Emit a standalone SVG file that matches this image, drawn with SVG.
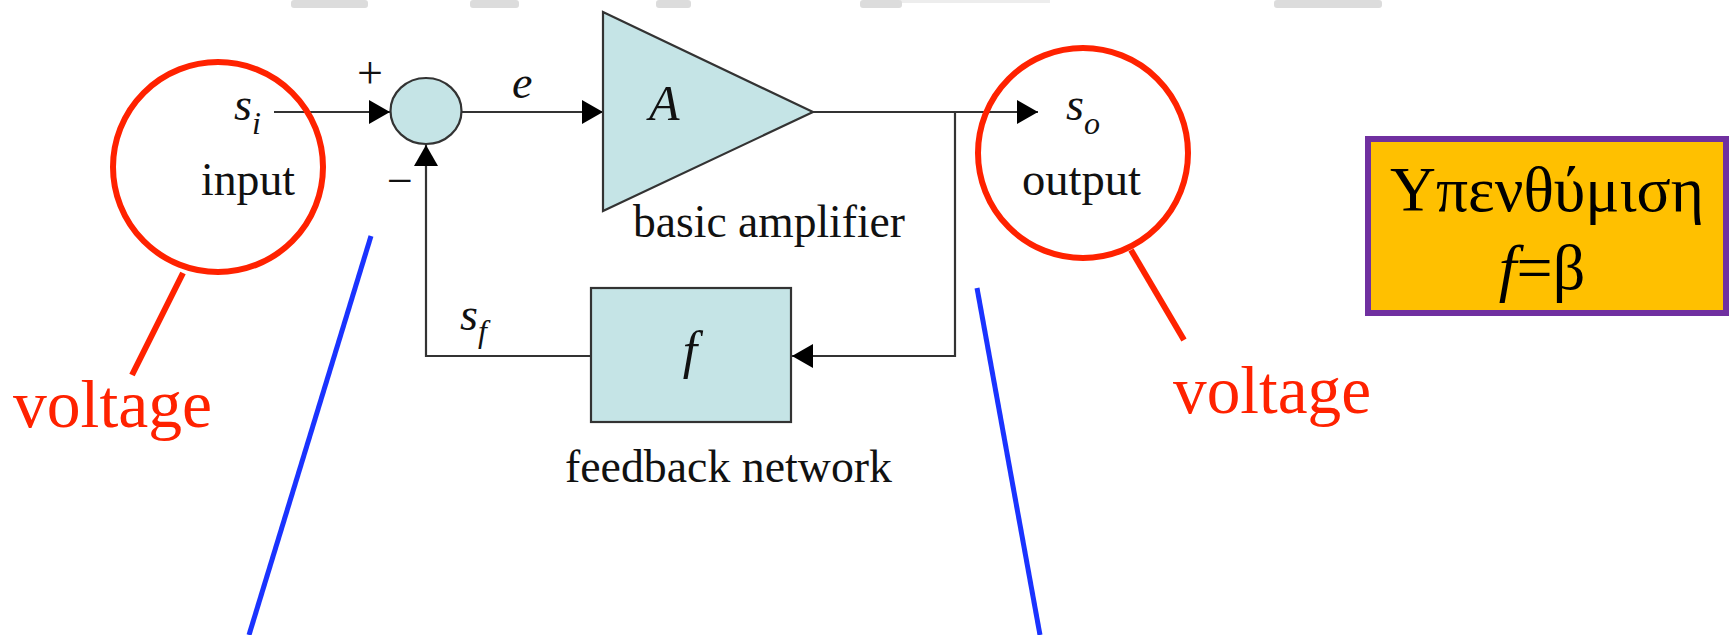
<svg xmlns="http://www.w3.org/2000/svg" width="1730" height="635" viewBox="0 0 1730 635">
<defs>
<style>
.wire{fill:none;stroke:#333;stroke-width:2.2}
.blk{fill:#c5e4e6;stroke:#333;stroke-width:2.2}
.ann{fill:none;stroke:#ff2200;stroke-width:6}
.blue{fill:none;stroke:#1a33ff;stroke-width:5}
.smudge{fill:#dcdcdc}
</style>
<marker id="arr" markerUnits="userSpaceOnUse" markerWidth="22" markerHeight="24" refX="21" refY="12" orient="auto">
<path d="M0,0 L21,12 L0,24 Z" fill="#000"/>
</marker>
</defs>
<rect width="1730" height="635" fill="#fff"/>
<g id="smudges">
<rect class="smudge" x="291" y="0" width="77" height="8" rx="3"/>
<rect class="smudge" x="470" y="0" width="49" height="8" rx="3"/>
<rect class="smudge" x="656" y="0" width="35" height="8" rx="3"/>
<rect class="smudge" x="860" y="0" width="42" height="8" rx="3"/>
<rect class="smudge" x="900" y="0" width="150" height="3" opacity="0.5"/>
<rect class="smudge" x="1274" y="0" width="108" height="8" rx="3"/>
</g>
<g id="connectors">
<path class="wire" d="M274,112 H390" marker-end="url(#arr)"/>
<path class="wire" d="M462,112 H603" marker-end="url(#arr)"/>
<path class="wire" d="M813,112 H1038" marker-end="url(#arr)"/>
<path class="wire" d="M955,112 V356 H792" marker-end="url(#arr)"/>
<path class="wire" d="M591,356 H426 V145" marker-end="url(#arr)"/>
</g>
<g id="summer">
<ellipse class="blk" cx="426" cy="111" rx="35.5" ry="33"/>
<text x="370" y="88" font-size="46" text-anchor="middle" style="font-family:'Liberation Serif',serif;fill:#111">+</text>
<text x="400" y="196" font-size="46" text-anchor="middle" style="font-family:'Liberation Serif',serif;fill:#111">−</text>
</g>
<g id="amplifier">
<polygon class="blk" points="603,12 813,112 603,211"/>
<text x="649" y="120" font-size="50" style="font-family:'Liberation Serif',serif;font-style:italic;fill:#111">A</text>
<text x="633" y="237" font-size="46" textLength="272" lengthAdjust="spacingAndGlyphs" style="font-family:'Liberation Serif',serif;fill:#111">basic amplifier</text>
</g>
<g id="feedback">
<rect class="blk" x="591" y="288" width="200" height="134"/>
<text x="690" y="368" font-size="52" text-anchor="middle" style="font-family:'Liberation Serif',serif;font-style:italic;fill:#111">f</text>
<text x="565" y="482" font-size="46" textLength="327" lengthAdjust="spacingAndGlyphs" style="font-family:'Liberation Serif',serif;fill:#111">feedback network</text>
</g>
<g id="labels">
<text x="512" y="98" font-size="46" style="font-family:'Liberation Serif',serif;font-style:italic;fill:#111">e</text>
<text x="234" y="120" font-size="46" style="font-family:'Liberation Serif',serif;font-style:italic;fill:#111">s<tspan font-size="32" dy="14">i</tspan></text>
<text x="1066" y="120" font-size="46" style="font-family:'Liberation Serif',serif;font-style:italic;fill:#111">s<tspan font-size="32" dy="14">o</tspan></text>
<text x="460" y="330" font-size="46" style="font-family:'Liberation Serif',serif;font-style:italic;fill:#111">s<tspan font-size="32" dy="12">f</tspan></text>
<text x="201" y="195" font-size="46" textLength="94" lengthAdjust="spacingAndGlyphs" style="font-family:'Liberation Serif',serif;fill:#111">input</text>
<text x="1022" y="195" font-size="46" textLength="119" lengthAdjust="spacingAndGlyphs" style="font-family:'Liberation Serif',serif;fill:#111">output</text>
</g>
<g id="input-note">
<circle class="ann" cx="218" cy="167" r="105"/>
<line class="ann" x1="183" y1="273" x2="132" y2="375"/>
<text x="13" y="427" font-size="68" textLength="199" lengthAdjust="spacingAndGlyphs" style="font-family:'Liberation Serif',serif;fill:#ff2200">voltage</text>
</g>
<g id="output-note">
<circle class="ann" cx="1083" cy="153" r="105"/>
<line class="ann" x1="1131" y1="250" x2="1184" y2="340"/>
<text x="1173" y="413" font-size="68" textLength="198" lengthAdjust="spacingAndGlyphs" style="font-family:'Liberation Serif',serif;fill:#ff2200">voltage</text>
</g>
<g id="blue-lines">
<line class="blue" x1="371" y1="236" x2="249" y2="635"/>
<line class="blue" x1="977" y1="288" x2="1040" y2="635"/>
</g>
<g id="reminder">
<rect x="1368" y="139" width="358" height="174" fill="#ffc000" stroke="#7030a0" stroke-width="6"/>
<text x="1547" y="211" font-size="64" text-anchor="middle" textLength="314" lengthAdjust="spacingAndGlyphs" style="font-family:'Liberation Serif',serif;fill:#000">Υπενθύμιση</text>
<text x="1542" y="289" font-size="64" text-anchor="middle" style="font-family:'Liberation Serif',serif;fill:#000"><tspan style="font-style:italic">f</tspan>=β</text>
</g>
</svg>
